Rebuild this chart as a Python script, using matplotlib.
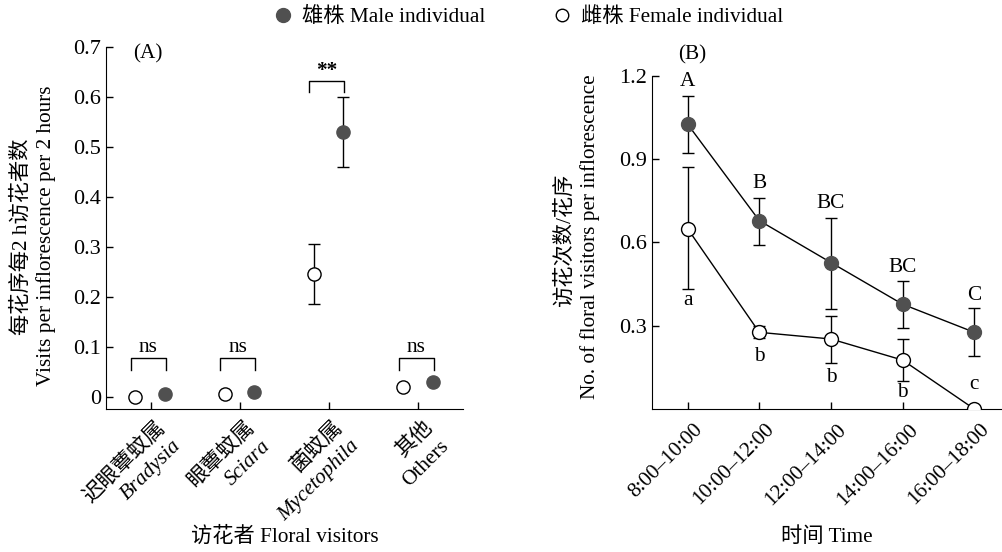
import matplotlib
matplotlib.use("Agg")
import matplotlib.pyplot as plt
from matplotlib.lines import Line2D

plt.rcParams['font.family'] = ['Liberation Serif', 'Noto Sans CJK SC']
plt.rcParams['axes.unicode_minus'] = False

# panel A data
groups_cn = ["迟眼蕈蚊属", "眼蕈蚊属", "菌蚊属", "其他"]
groups_lat = ["Bradysia", "Sciara", "Mycetophila", "Others"]
lat_italic = [True, True, True, False]
female_a = [0.0, 0.005, 0.245, 0.02]
female_a_err = [0.0, 0.004, 0.06, 0.004]
male_a = [0.005, 0.01, 0.53, 0.03]
male_a_err = [0.004, 0.006, 0.07, 0.005]
sig_a = ["ns", "ns", "**", "ns"]

# panel B data
times = ["8:00\u201310:00", "10:00\u201312:00", "12:00\u201314:00", "14:00\u201316:00", "16:00\u201318:00"]
male_b = [1.025, 0.678, 0.527, 0.377, 0.276]
male_b_lo = [0.92, 0.59, 0.36, 0.29, 0.19]
male_b_hi = [1.127, 0.761, 0.689, 0.461, 0.362]
female_b = [0.649, 0.276, 0.252, 0.176, 0.0]
female_b_lo = [0.433, 0.254, 0.164, 0.101, 0.0]
female_b_hi = [0.87, 0.299, 0.336, 0.251, 0.0]
male_letters = ["A", "B", "BC", "BC", "C"]
male_letter_y = [1.178, 0.81, 0.74, 0.51, 0.41]
female_letters = ["a", "b", "b", "b", "c"]
female_letter_y = [0.39, 0.19, 0.114, 0.059, 0.09]

dark = "#505050"
fs = 15.3
tfs = 16

fig = plt.figure(figsize=(10.03, 5.52), dpi=100)
axA = fig.add_axes([0.1057, 0.259, 0.3559, 0.655])
axB = fig.add_axes([0.6498, 0.259, 0.3502, 0.6042])

for ax in (axA, axB):
    ax.spines['top'].set_visible(False)
    ax.spines['right'].set_visible(False)
    ax.tick_params(direction='in', length=5, width=1, labelsize=tfs)

# ---- panel A
xa = list(range(len(groups_cn)))
xf = [x - 0.17 for x in xa]
xm = [x + 0.16 for x in xa]
axA.errorbar(xf, female_a, yerr=female_a_err, fmt='o', ms=9.5, mfc='white', mec='black',
             ecolor='black', elinewidth=1, capsize=4, mew=1, zorder=3)
axA.errorbar(xm, male_a, yerr=male_a_err, fmt='o', ms=9.5, mfc=dark, mec=dark,
             ecolor='black', elinewidth=1, capsize=4, zorder=3)

for i, s in enumerate(sig_a):
    if s == "ns":
        top, bot, ty, w = 0.078, 0.053, 0.099, 'normal'
    else:
        top, bot, ty, w = 0.633, 0.61, 0.652, 'bold'
    x0, x1 = i - 0.22, i + 0.17
    axA.plot([x0, x0, x1, x1], [bot, top, top, bot], color='black', lw=1)
    axA.text((x0 + x1) / 2, ty, s, ha='center', va='center', fontsize=fs, fontweight=w)

axA.set_xlim(-0.5, 3.5)
axA.set_ylim(-0.025, 0.7)
axA.spines['left'].set_bounds(-0.025, 0.7)
axA.set_xticks(xa)
axA.set_xticklabels([])
axA.set_yticks([0, 0.1, 0.2, 0.3, 0.4, 0.5, 0.6, 0.7])
axA.set_yticklabels(["0", "0.1", "0.2", "0.3", "0.4", "0.5", "0.6", "0.7"])
axA.text(0.076, 0.983, "(A)", transform=axA.transAxes, ha='left', va='center', fontsize=fs)

for i in xa:
    axA.annotate(groups_cn[i], xy=(i, 0), xycoords=axA.get_xaxis_transform(),
                 xytext=(3, -6), textcoords='offset points', rotation=45,
                 rotation_mode='anchor', ha='right', va='top', fontsize=fs)
    axA.annotate(groups_lat[i], xy=(i, 0), xycoords=axA.get_xaxis_transform(),
                 xytext=(15, -20), textcoords='offset points', rotation=45,
                 rotation_mode='anchor', ha='right', va='top', fontsize=fs,
                 style='italic' if lat_italic[i] else 'normal')

fig.text(284.5 / 1003, 1 - 537 / 552, "访花者 Floral visitors", ha='center', va='center', fontsize=fs)
fig.text(22 / 1003, 1 - 237 / 552, "每花序每2 h访花者数", rotation=90, ha='center', va='center', fontsize=fs)
fig.text(46 / 1003, 1 - 236 / 552, "Visits per inflorescence per 2 hours", rotation=90,
         ha='center', va='center', fontsize=fs)

# ---- panel B
xb = list(range(len(times)))
m_err = [[m - lo for m, lo in zip(male_b, male_b_lo)], [hi - m for m, hi in zip(male_b, male_b_hi)]]
f_err = [[f - lo for f, lo in zip(female_b, female_b_lo)], [hi - f for f, hi in zip(female_b, female_b_hi)]]
axB.errorbar(xb, male_b, yerr=m_err, fmt='-o', color='black', lw=1, ms=10, mfc=dark, mec=dark,
             ecolor='black', elinewidth=1, capsize=4, zorder=3)
axB.errorbar(xb, female_b, yerr=f_err, fmt='-o', color='black', lw=1, ms=10, mfc='white',
             mec='black', mew=1, ecolor='black', elinewidth=1, capsize=4, zorder=3)
for i in xb:
    axB.text(i, male_letter_y[i], male_letters[i], ha='center', va='center', fontsize=fs)
    axB.text(i, female_letter_y[i], female_letters[i], ha='center', va='center', fontsize=fs)

axB.set_xlim(-0.5, 4.4)
axB.set_ylim(0, 1.2)
axB.set_xticks(xb)
axB.set_xticklabels([])
axB.set_yticks([0.3, 0.6, 0.9, 1.2])
axB.set_yticklabels(["0.3", "0.6", "0.9", "1.2"])
axB.text(-0.133, 1.275, "(B)", ha='left', va='center', fontsize=fs, clip_on=False)
for i in xb:
    axB.annotate(times[i], xy=(i, 0), xycoords=axB.get_xaxis_transform(),
                 xytext=(4, -8), textcoords='offset points', rotation=45,
                 rotation_mode='anchor', ha='right', va='top', fontsize=fs)

fig.text(827 / 1003, 1 - 537 / 552, "时间 Time", ha='center', va='center', fontsize=fs)
fig.text(565 / 1003, 1 - 240 / 552, "访花次数/花序", rotation=90, ha='center', va='center', fontsize=fs)
fig.text(590 / 1003, 1 - 237 / 552, "No. of floral visitors per inflorescence", rotation=90,
         ha='center', va='center', fontsize=fs)

# legend
handles = [Line2D([], [], ls='none', marker='o', ms=10, mfc=dark, mec=dark),
           Line2D([], [], ls='none', marker='o', ms=9, mfc='white', mec='black')]
fig.legend(handles, ["雄株 Male individual", "雌株 Female individual"], loc='center',
           bbox_to_anchor=(0.527, 0.969), ncol=2, frameon=False, fontsize=fs,
           handlelength=0.8, handletextpad=0.5, columnspacing=3.2)

fig.savefig("out.png", dpi=100)
